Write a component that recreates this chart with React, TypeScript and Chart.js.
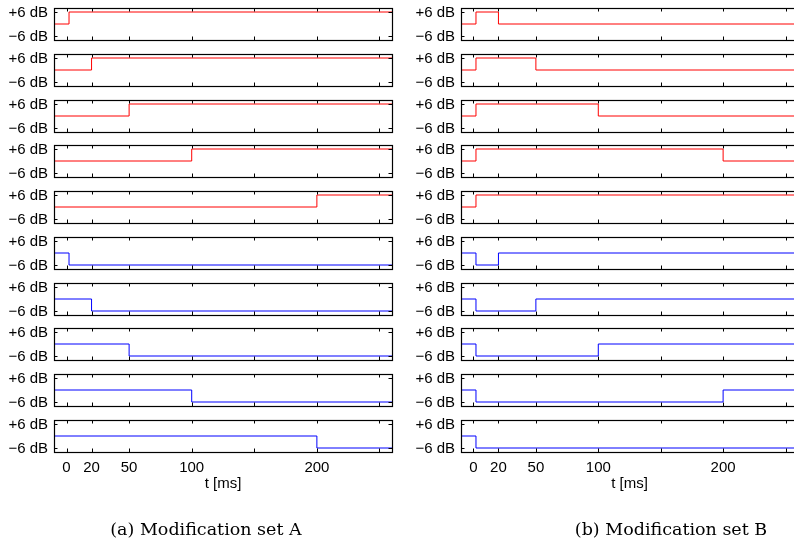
import React, { useEffect, useRef } from 'react';
import { Chart, registerables } from 'chart.js';

Chart.register(...registerables);

// ---- data ----
const tMin = -10;
const tMax = 260;
const xTickValues = [0, 20, 50, 100, 150, 200, 250];
const xTickLabels = ['0', '20', '50', '100', '', '200', ''];
const yTickValues = [-6, 6];
const yTickLabels = ['\u22126 dB', '+6 dB'];
const yMin = -8;
const yMax = 8;
const baseDb = 0;
const upDb = 6;
const downDb = -6;
// Set A: time [ms] where the level switches (one per panel)
const switchA = [2, 20, 50, 100, 200];
// Set B: onset of the modification and time it returns to baseline (null = stays)
const onsetB = 2;
const returnB = [20, 50, 100, 200, null];

type Pt = { x: number; y: number };

function seriesA(t: number, level: number): Pt[] {
  return [
    { x: tMin, y: baseDb },
    { x: t, y: level },
    { x: tMax, y: level },
  ];
}
function seriesB(tEnd: number | null, level: number): Pt[] {
  if (tEnd === null) {
    return [
      { x: tMin, y: baseDb },
      { x: onsetB, y: level },
      { x: tMax, y: level },
    ];
  }
  return [
    { x: tMin, y: baseDb },
    { x: onsetB, y: level },
    { x: tEnd, y: baseDb },
    { x: tMax, y: baseDb },
  ];
}

const RED = '#ff0000';
const BLUE = '#0000ff';

// ---- layout ----
const PAD_T = 10;
const AREA_H = 32;
const FONT = { family: '"Liberation Sans", Arial, Helvetica, sans-serif', size: 15 };

const boxPlugin = {
  id: 'boxTicks',
  afterDraw(chart: any) {
    const { ctx, chartArea } = chart;
    const { left, right, top, bottom } = chartArea;
    const xs = chart.scales.x;
    const ys = chart.scales.y;
    const L = 3.5;
    ctx.save();
    ctx.strokeStyle = '#000';
    ctx.lineWidth = 1;
    ctx.beginPath();
    xTickValues.forEach((v) => {
      const px = Math.round(xs.getPixelForValue(v)) + 0.5;
      ctx.moveTo(px, bottom);
      ctx.lineTo(px, bottom - L);
      ctx.moveTo(px, top);
      ctx.lineTo(px, top + L);
    });
    yTickValues.forEach((v) => {
      const py = Math.round(ys.getPixelForValue(v)) + 0.5;
      ctx.moveTo(left, py);
      ctx.lineTo(left + L, py);
      ctx.moveTo(right, py);
      ctx.lineTo(right - L, py);
    });
    ctx.stroke();
    ctx.lineWidth = 1.2;
    ctx.strokeRect(Math.round(left) + 0.5, Math.round(top) + 0.5, Math.round(right - left), Math.round(bottom - top));
    ctx.restore();
  },
};

type PanelProps = {
  points: Pt[];
  color: string;
  showX: boolean;
  left: number;
  top: number;
  yAxisWidth: number;
  padRight: number;
};

function Panel({ points, color, showX, left, top, yAxisWidth, padRight }: PanelProps) {
  const ref = useRef<HTMLCanvasElement>(null);
  const xh = showX ? 50 : 10;
  const h = PAD_T + AREA_H + xh;
  useEffect(() => {
    const chart = new Chart(ref.current as HTMLCanvasElement, {
      type: 'line',
      data: {
        datasets: [
          {
            data: points,
            borderColor: color,
            borderWidth: 1,
            pointRadius: 0,
            stepped: 'before',
            fill: false,
          } as any,
        ],
      },
      options: {
        animation: false,
        responsive: false,
        maintainAspectRatio: false,
        events: [],
        layout: { padding: { top: PAD_T, right: padRight, left: 0, bottom: 0 } },
        plugins: { legend: { display: false }, tooltip: { enabled: false } },
        scales: {
          x: {
            type: 'linear',
            min: tMin,
            max: tMax,
            grid: { display: false, drawTicks: false },
            border: { display: false },
            afterBuildTicks: (s: any) => {
              s.ticks = xTickValues.map((v) => ({ value: v }));
            },
            afterFit: (s: any) => {
              s.height = xh;
              s.paddingLeft = 0;
              s.paddingRight = 0;
            },
            ticks: {
              display: showX,
              padding: 7,
              maxRotation: 0,
              autoSkip: false,
              color: '#000',
              font: FONT,
              callback: (v: any) => {
                const i = xTickValues.indexOf(Number(v));
                return i >= 0 ? xTickLabels[i] : '';
              },
            },
            title: {
              display: showX,
              text: 't [ms]',
              color: '#000',
              font: FONT,
              padding: { top: 0, bottom: 9 },
            },
          },
          y: {
            type: 'linear',
            min: yMin,
            max: yMax,
            grid: { display: false, drawTicks: false },
            border: { display: false },
            afterBuildTicks: (s: any) => {
              s.ticks = yTickValues.map((v) => ({ value: v }));
            },
            afterFit: (s: any) => {
              s.width = yAxisWidth;
              s.paddingTop = 0;
              s.paddingBottom = 0;
            },
            ticks: {
              padding: 6,
              labelOffset: 1,
              autoSkip: false,
              color: '#000',
              font: FONT,
              callback: (v: any) => {
                const i = yTickValues.indexOf(Number(v));
                return i >= 0 ? yTickLabels[i] : '';
              },
            },
          },
        },
      } as any,
      plugins: [boxPlugin],
    });
    return () => chart.destroy();
  }, []);
  return (
    <canvas
      ref={ref}
      width={400}
      height={h}
      style={{ position: 'absolute', left, top: top - PAD_T, width: 400, height: h }}
    />
  );
}

export default function App() {
  const panelsA: { points: Pt[]; color: string }[] = [
    ...switchA.map((t) => ({ points: seriesA(t, upDb), color: RED })),
    ...switchA.map((t) => ({ points: seriesA(t, downDb), color: BLUE })),
  ];
  const panelsB: { points: Pt[]; color: string }[] = [
    ...returnB.map((t) => ({ points: seriesB(t, upDb), color: RED })),
    ...returnB.map((t) => ({ points: seriesB(t, downDb), color: BLUE })),
  ];
  const topOf = (i: number) => Math.round(8.3 + i * 45.7);
  const capStyle: React.CSSProperties = {
    position: 'absolute',
    top: 519,
    width: 300,
    textAlign: 'center',
    fontFamily: '"DejaVu Serif", serif',
    fontSize: 17.5,
    color: '#000',
    whiteSpace: 'nowrap',
  };
  return (
    <div
      style={{
        position: 'fixed',
        left: 0,
        top: 0,
        width: 794,
        height: 544,
        overflow: 'hidden',
        background: '#fff',
      }}
    >
      {panelsA.map((p, i) => (
        <Panel
          key={'a' + i}
          points={p.points}
          color={p.color}
          showX={i === panelsA.length - 1}
          left={0}
          top={topOf(i)}
          yAxisWidth={54}
          padRight={8}
        />
      ))}
      {panelsB.map((p, i) => (
        <Panel
          key={'b' + i}
          points={p.points}
          color={p.color}
          showX={i === panelsB.length - 1}
          left={400}
          top={topOf(i)}
          yAxisWidth={61}
          padRight={2}
        />
      ))}
      <div style={{ ...capStyle, left: 206 - 150 }}>(a) Modification set A</div>
      <div style={{ ...capStyle, left: 671 - 150 }}>(b) Modification set B</div>
    </div>
  );
}
